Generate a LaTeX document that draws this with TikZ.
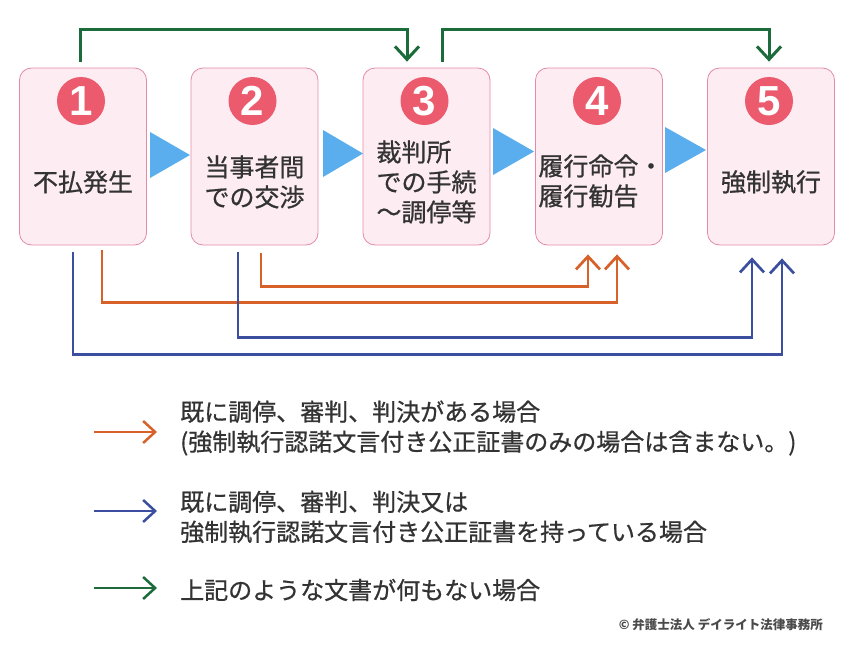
\documentclass[tikz,border=0pt]{standalone}
\usepackage{fontspec}
\setmainfont{Noto Sans CJK JP}
\newfontfamily\jpm{Noto Sans CJK JP}[FakeBold=0.7]
\newfontfamily\numfont{Liberation Sans}
\usetikzlibrary{arrows.meta,calc}
\definecolor{boxfill}{HTML}{FDEDF3}
\definecolor{boxline}{HTML}{E28CA3}
\definecolor{circ}{HTML}{EB5A6D}
\definecolor{trifill}{HTML}{5AAEEE}
\definecolor{ora}{HTML}{D8612A}
\definecolor{blu}{HTML}{3B4EA0}
\definecolor{grn}{HTML}{1C6B3B}
\definecolor{txt}{HTML}{333333}
\definecolor{copy}{HTML}{4A4A4A}
\tikzset{
  stepbox/.style={draw=boxline, line width=0.8pt, fill=boxfill, rounded corners=12pt,
    minimum width=127pt, minimum height=177pt, inner sep=0pt},
  numcirc/.style={circle, fill=circ, minimum size=48pt, inner sep=0pt, text=white,
    font=\numfont\bfseries\fontsize{42}{42}\selectfont},
  boxtext/.style={align=left, text=txt, font=\jpm\fontsize{25}{30}\selectfont, inner sep=0pt},
  legtext/.style={anchor=west, align=left, text=txt, font=\jpm\fontsize{24}{30}\selectfont, inner sep=0pt},
  tritri/.style={fill=trifill},
  vtip/.tip={Straight Barb[length=13pt,width=24pt]},
  conn/.style={line width=2.7pt, -vtip},
  oconn/.style={conn, draw=ora},
  bconn/.style={conn, draw=blu},
  gconn/.style={conn, draw=grn, line width=3pt},
  lconn/.style={line width=2.5pt, -{Straight Barb[length=12pt,width=22pt]}},
}
\begin{document}
\begin{tikzpicture}[x=1pt,y=-1pt]
\useasboundingbox[fill=white] (0,0) rectangle (850,654);

% boxes
\node[stepbox] (b1) at (83,156.5) {};
\node[stepbox] (b2) at (254.5,156.5) {};
\node[stepbox] (b3) at (426.5,156.5) {};
\node[stepbox] (b4) at (599,156.5) {};
\node[stepbox] (b5) at (771,156.5) {};

% number circles
\node[numcirc] (n1) at (81,101) {1};
\node[numcirc] (n2) at (252.5,101) {2};
\node[numcirc] (n3) at (424.5,101) {3};
\node[numcirc] (n4) at (597,101) {4};
\node[numcirc] (n5) at (769,101) {5};

% box texts
\node[boxtext] (t1) at (83,182) {不払発生};
\node[boxtext] (t2) at (254.5,182) {当事者間\\での交渉};
\node[boxtext] (t3) at (426.5,182) {裁判所\\での手続\\～調停等};
\node[boxtext] (t4) at (601,181) {履行命令・\\履行勧告};
\node[boxtext] (t5) at (771,182) {強制執行};

% blue triangles
\fill[tritri] (150,132) -- (150,178) -- (190,155) -- cycle;
\fill[tritri] (323,130) -- (323,177) -- (363,153.5) -- cycle;
\fill[tritri] (493,128) -- (493,175) -- (534,151.5) -- cycle;
\fill[tritri] (665,127) -- (665,173) -- (706,150) -- cycle;

% green connectors
\draw[gconn] ([xshift=-3pt,yshift=6pt]b1.north) -- ++(0,-32) -| ([xshift=-19.5pt,yshift=6pt]b3.north);
\draw[gconn] ([xshift=15.5pt,yshift=6pt]b3.north) -- ++(0,-32) -| ([xshift=-2pt,yshift=6pt]b5.north);

% orange connectors
\draw[oconn] ([xshift=19pt,yshift=-5pt]b1.south) -- ++(0,52) -| ([xshift=18pt,yshift=-9pt]b4.south);
\draw[oconn] ([xshift=6.5pt,yshift=-8pt]b2.south) -- ++(0,33) -| ([xshift=-11pt,yshift=-9pt]b4.south);

% blue connectors
\draw[bconn] ([xshift=-10pt,yshift=-7pt]b1.south) -- ++(0,102) -| ([xshift=11pt,yshift=-13pt]b5.south);
\draw[bconn] ([xshift=-16.5pt,yshift=-7pt]b2.south) -- ++(0,85) -| ([xshift=-19pt,yshift=-12pt]b5.south);

% legend
\coordinate (la1) at (94,432);  \coordinate (lb1) at (157,432);
\coordinate (la2) at (94,511);  \coordinate (lb2) at (157,511);
\coordinate (la3) at (94,588);  \coordinate (lb3) at (157,588);
\draw[lconn, draw=ora] (la1) -- (lb1);
\draw[lconn, draw=blu] (la2) -- (lb2);
\draw[lconn, draw=grn] (la3) -- (lb3);
\node[legtext] (l1) at (180,428) {既に調停、審判、判決がある場合\\(強制執行認諾文言付き公正証書のみの場合は含まない。)};
\node[legtext] (l2) at (180,517) {既に調停、審判、判決又は\\強制執行認諾文言付き公正証書を持っている場合};
\node[legtext] (l3) at (180,590) {上記のような文書が何もない場合};

% copyright
\node[anchor=east, inner sep=0pt, text=copy, font=\bfseries\fontsize{12.5}{14}\selectfont] (cp) at (823,625) {© 弁護士法人 デイライト法律事務所};
\end{tikzpicture}
\end{document}
